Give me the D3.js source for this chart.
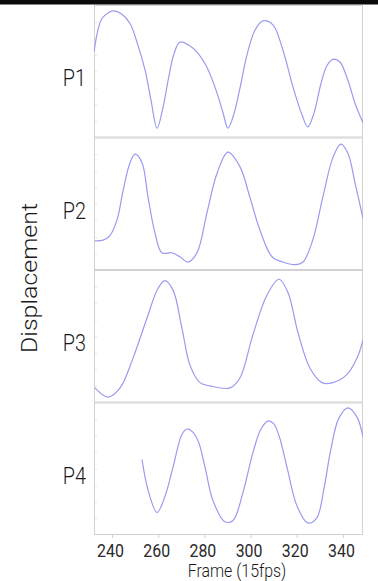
<!DOCTYPE html>
<html>
<head>
<meta charset="utf-8">
<script src="https://cdn.jsdelivr.net/npm/d3@7"></script>
<style>
  html, body { margin: 0; padding: 0; background: #fff; }
  svg { display: block; }
</style>
</head>
<body>
<div id="chart"></div>
<script>
const width = 378;
const height = 581;

// frame numbers and displacement (normalised per panel)
const panels = ['P1', 'P2', 'P3', 'P4'];

const p1Frames = [232.2, 233.9, 235.7, 238.3, 240.4, 244.3, 247.8, 250.8, 254.3, 256.9, 259.5, 262.0, 264.5, 266.8, 269.4, 273.8, 276.8, 281.1, 285.5, 288.1, 290.2, 292.5, 295.5, 298.4, 301.9, 305.4, 309.7, 314.0, 318.4, 322.3, 324.8, 327.4, 330.4, 333.0, 335.7, 338.7, 342.2, 345.2, 348.7];
const p1Values = [0.645, 0.81, 0.90, 0.94, 0.955, 0.93, 0.86, 0.72, 0.51, 0.28, 0.07, 0.22, 0.45, 0.63, 0.72, 0.69, 0.645, 0.53, 0.335, 0.185, 0.07, 0.16, 0.38, 0.62, 0.81, 0.88, 0.85, 0.66, 0.38, 0.17, 0.08, 0.18, 0.40, 0.54, 0.59, 0.57, 0.43, 0.26, 0.11];

const p2Frames = [232.6, 236.1, 239.1, 242.2, 244.8, 247.8, 250.0, 253.0, 255.6, 258.6, 261.6, 266.0, 269.4, 272.9, 276.8, 281.1, 285.5, 290.2, 295.4, 299.7, 304.1, 309.3, 314.0, 319.2, 322.7, 327.0, 331.3, 335.7, 339.1, 342.2, 345.2, 348.7];
const p2Values = [0.22, 0.225, 0.26, 0.38, 0.60, 0.81, 0.875, 0.81, 0.55, 0.28, 0.13, 0.13, 0.10, 0.06, 0.13, 0.43, 0.73, 0.89, 0.78, 0.55, 0.30, 0.10, 0.06, 0.04, 0.06, 0.23, 0.55, 0.85, 0.95, 0.88, 0.66, 0.39];

const p3Frames = [232.6, 238.3, 243.5, 249.1, 255.2, 259.9, 262.9, 266.4, 270.3, 273.8, 278.1, 282.4, 291.1, 295.4, 301.0, 307.1, 312.3, 316.2, 320.5, 325.7, 330.9, 335.7, 341.7, 346.1, 348.7];
const p3Values = [0.11, 0.04, 0.11, 0.335, 0.64, 0.86, 0.92, 0.85, 0.56, 0.28, 0.15, 0.125, 0.11, 0.185, 0.51, 0.81, 0.93, 0.83, 0.53, 0.26, 0.15, 0.15, 0.21, 0.335, 0.47];

const p4Frames = [253.0, 255.6, 259.5, 262.9, 266.4, 270.3, 272.5, 274.8, 277.5, 280.3, 283.7, 288.9, 292.4, 296.7, 301.0, 304.5, 307.5, 310.0, 312.5, 315.8, 320.1, 324.8, 328.7, 331.7, 334.7, 338.2, 342.2, 346.1, 348.7];
const p4Values = [0.57, 0.34, 0.17, 0.29, 0.51, 0.76, 0.80, 0.78, 0.70, 0.51, 0.26, 0.10, 0.11, 0.32, 0.62, 0.80, 0.86, 0.84, 0.74, 0.51, 0.22, 0.09, 0.13, 0.34, 0.64, 0.88, 0.96, 0.89, 0.74];

const seriesFrames = [p1Frames, p2Frames, p3Frames, p4Frames];
const seriesValues = [p1Values, p2Values, p3Values, p4Values];

const xTicks = [240, 260, 280, 300, 320, 340];
const xDomain = [232.2, 348.7];

const margin = {top: 5, right: 15, bottom: 46, left: 94};
const plotBottom = height - margin.bottom;
const panelH = (plotBottom - margin.top) / panels.length;
const squeeze = 0.86; // text in the reference is horizontally narrow

const x = d3.scaleLinear()
  .domain(xDomain)
  .range([margin.left, width - margin.right]);

const y = d3.scaleLinear().domain([0, 1]);

const svg = d3.select('#chart').append('svg')
  .attr('width', width)
  .attr('height', height);

// dark strip along the top of the photo
svg.append('rect')
  .attr('x', 0).attr('y', 0)
  .attr('width', width).attr('height', 4.5)
  .attr('fill', '#0b0b0b');

const line = d3.line()
  .x(d => x(d[0]))
  .y(d => y(d[1]))
  .curve(d3.curveCatmullRom.alpha(0.5));

panels.forEach((name, i) => {
  const top = margin.top + i * panelH;
  const bottom = top + panelH;
  y.range([bottom, top]);

  const g = svg.append('g').attr('class', 'panel');

  svg.append('clipPath')
    .attr('id', 'clip' + i)
    .append('rect')
    .attr('x', x.range()[0]).attr('y', top)
    .attr('width', x.range()[1] - x.range()[0]).attr('height', panelH);

  // faint tick marks inside the left edge
  g.append('g')
    .attr('transform', `translate(${margin.left},0)`)
    .call(d3.axisLeft(y).tickValues(d3.range(0.125, 1, 0.125)).tickSize(-3).tickFormat(''))
    .call(a => a.select('.domain').remove())
    .call(a => a.selectAll('line').attr('stroke', '#e4e4e4'));

  g.append('rect')
    .attr('x', x.range()[0] + 0.5).attr('y', top + 0.5)
    .attr('width', x.range()[1] - x.range()[0] - 1).attr('height', panelH - 1)
    .attr('fill', 'none')
    .attr('stroke', '#d2d2d2')
    .attr('stroke-width', 1);

  const pts = seriesFrames[i].map((f, k) => [f, seriesValues[i][k]]);
  g.append('path')
    .datum(pts)
    .attr('clip-path', `url(#clip${i})`)
    .attr('fill', 'none')
    .attr('stroke', '#9a9af0')
    .attr('stroke-width', 1.2)
    .attr('d', line);

  g.append('text')
    .attr('transform', `translate(86,${(top + bottom) / 2 + 15}) scale(${squeeze},1)`)
    .attr('text-anchor', 'end')
    .attr('font-family', 'Roboto')
    .attr('font-weight', 300)
    .attr('font-size', 23)
    .attr('fill', '#1a1a1a')
    .text(name);
});

// x axis
const xAxis = svg.append('g')
  .attr('transform', `translate(0,${plotBottom})`)
  .call(d3.axisBottom(x).tickValues(xTicks).tickSize(3).tickPadding(4))
  .call(a => a.select('.domain').remove());

xAxis.selectAll('line').attr('stroke', '#d2d2d2');
xAxis.selectAll('text').remove();

xAxis.selectAll('.tick').append('text')
  .attr('transform', `translate(-2,22) scale(${squeeze},1)`)
  .attr('text-anchor', 'middle')
  .attr('font-family', 'Roboto')
  .attr('font-size', 18.5)
  .attr('fill', '#2a2a2a')
  .text(d => d);

svg.append('text')
  .attr('transform', `translate(237,577) scale(${squeeze},1)`)
  .attr('text-anchor', 'middle')
  .attr('font-family', 'Roboto')
  .attr('font-weight', 300)
  .attr('font-size', 18.5)
  .attr('fill', '#1a1a1a')
  .text('Frame (15fps)');

svg.append('text')
  .attr('transform', `translate(37,278) scale(${squeeze},1) rotate(-90)`)
  .attr('text-anchor', 'middle')
  .attr('font-family', 'Roboto')
  .attr('font-weight', 300)
  .attr('font-size', 25)
  .attr('fill', '#1a1a1a')
  .text('Displacement');
</script>
</body>
</html>
